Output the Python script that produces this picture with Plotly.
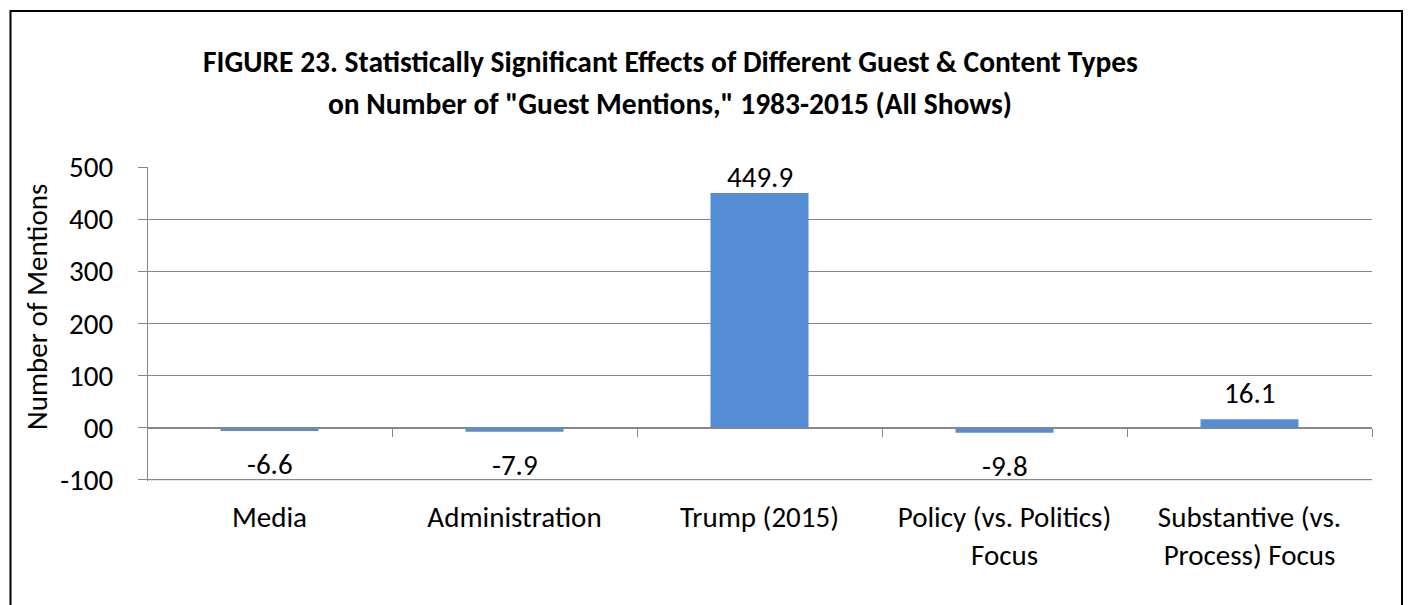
import plotly.graph_objects as go

# Regression effects on "guest mentions"
categories = [
    "Media",
    "Administration",
    "Trump (2015)",
    "Policy (vs. Politics)<br>Focus",
    "Substantive (vs.<br>Process) Focus",
]
effects = [-6.6, -7.9, 449.9, -9.8, 16.1]
effect_labels = ["-6.6", "-7.9", "449.9", "-9.8", "16.1"]

y_tick_values = [-100, 0, 100, 200, 300, 400, 500]
y_tick_text = ["-100", "00", "100", "200", "300", "400", "500"]

title_line_1 = "FIGURE 23. Statistically Significant Effects of Different Guest & Content Types"
title_line_2 = 'on Number of "Guest Mentions," 1983-2015 (All Shows)'
y_title = "Number of Mentions"

W, H = 1408, 605
ML, MR, MT, MB = 147, 36, 167, 124
PW, PH = W - ML - MR, H - MT - MB
Y_MIN, Y_MAX = -100, 500
# a little headroom below -100 so its gridline is kept inside the plot area
Y_LO = Y_MIN - 2.5
PX_PER_UNIT = PH / (Y_MAX - Y_LO)

FONT = "Carlito, Calibri, Lato, sans-serif"
FS = 29
FS_TITLE = 29.5
GRID = "#878787"
BAR = "#558ED5"

fig = go.Figure(
    go.Bar(
        x=categories,
        y=effects,
        marker=dict(color=BAR, line=dict(width=0)),
        width=0.4,
        hoverinfo="skip",
    )
)

# value labels: above positive bars, below negative ones, kept inside the plot
annotations = []
for cat, val, txt in zip(categories, effects, effect_labels):
    shift = 26 if val >= 0 else -33
    top_room = (Y_MAX - val) * PX_PER_UNIT - 10
    shift = min(shift, top_room)
    annotations.append(
        dict(
            x=cat, y=val, xref="x", yref="y", text=txt, showarrow=False,
            yshift=shift, yanchor="middle", xanchor="center",
            font=dict(family=FONT, size=FS, color="#000000"),
        )
    )

def px_x(p):
    return (p - ML) / PW

def px_y(p):
    return (H - MB - p) / PH

annotations += [
    dict(x=px_x(670), y=px_y(62), xref="paper", yref="paper", showarrow=False,
         text="<b>" + title_line_1 + "</b>", xanchor="center", yanchor="middle",
         font=dict(family=FONT, size=FS_TITLE, color="#000000")),
    dict(x=px_x(670), y=px_y(104), xref="paper", yref="paper", showarrow=False,
         text="<b>" + title_line_2 + "</b>", xanchor="center",
         yanchor="middle", font=dict(family=FONT, size=FS_TITLE, color="#000000")),
    dict(x=px_x(37), y=px_y(307), xref="paper", yref="paper", showarrow=False,
         text=y_title, textangle=-90, xanchor="center", yanchor="middle",
         font=dict(family=FONT, size=FS, color="#000000")),
]

fig.update_layout(
    width=W,
    height=H,
    margin=dict(l=ML, r=MR, t=MT, b=MB, pad=0),
    paper_bgcolor="#FFFFFF",
    plot_bgcolor="#FFFFFF",
    showlegend=False,
    bargap=0.6,
    font=dict(family=FONT, size=FS, color="#000000"),
    annotations=annotations,
    shapes=[
        # -100 gridline
        dict(type="line", xref="x domain", yref="y", x0=0, x1=1,
             y0=Y_MIN, y1=Y_MIN, line=dict(color=GRID, width=1), layer="below"),
        # chart frame
        dict(type="rect", xref="paper", yref="paper",
             x0=px_x(10.5), x1=px_x(1402), y0=px_y(620), y1=px_y(11),
             line=dict(color="#000000", width=2), fillcolor="rgba(0,0,0,0)",
             layer="above"),
    ],
    xaxis=dict(
        type="category",
        anchor="free",
        position=(0 - Y_LO) / (Y_MAX - Y_LO),
        showline=True,
        linecolor=GRID,
        linewidth=1,
        ticks="outside",
        tickson="boundaries",
        ticklen=8,
        tickcolor=GRID,
        tickwidth=1,
        showgrid=False,
        ticklabelstandoff=64,
        tickfont=dict(family=FONT, size=FS, color="#000000"),
    ),
    yaxis=dict(
        range=[Y_LO, Y_MAX],
        anchor="free",
        position=0,
        tickvals=y_tick_values,
        ticktext=y_tick_text,
        showline=True,
        linecolor=GRID,
        linewidth=1,
        ticks="outside",
        ticklen=9,
        tickcolor=GRID,
        showgrid=True,
        gridcolor=GRID,
        gridwidth=1,
        zeroline=True,
        zerolinecolor=GRID,
        zerolinewidth=1,
        ticklabelstandoff=19,
        tickfont=dict(family=FONT, size=FS, color="#000000"),
    ),
)

fig.write_html("out.html")
